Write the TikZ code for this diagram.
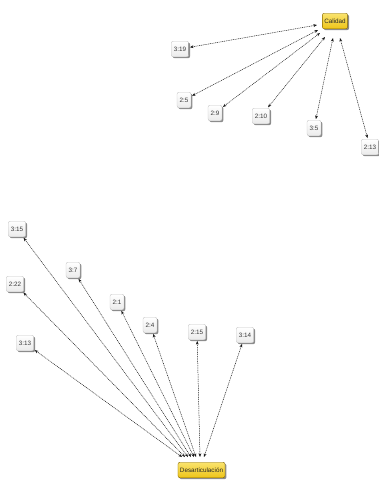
\documentclass[tikz,border=0pt]{standalone}
\usepackage{fontspec}
\setmainfont{Liberation Sans}
\usetikzlibrary{shadows,arrows.meta}
\definecolor{gold}{RGB}{238,196,24}
\definecolor{goldlight}{RGB}{250,228,110}
\definecolor{goldborder}{RGB}{130,100,0}
\begin{document}
\begin{tikzpicture}[x=1pt,y=-1pt,
  leaf/.style={draw=gray!45, rounded corners=2pt, top color=white, bottom color=gray!16,
    font=\fontsize{6.3}{7}\selectfont, text=black!78, inner xsep=2.6pt, inner ysep=0pt,
    minimum height=15.5pt,
    drop shadow={shadow xshift=1.4pt, shadow yshift=-1.4pt, fill=black!60, opacity=0.75}},
  code/.style={leaf, draw=goldborder, top color=goldlight, bottom color=gold,
    text=black!85, inner xsep=2pt},
  link/.style={<->, >={Stealth[length=3.6pt,width=2.8pt]},
    dash pattern=on 1pt off 0.8pt, line width=0.5pt, black!90, shorten <=1pt}
]
\useasboundingbox (0,0) rectangle (379,483);

% Calidad group
\node[code] (cal) at (335,21) {Calidad};
\node[leaf] (a319) at (180,49) {3:19};
\node[leaf] (a25) at (184,100) {2:5};
\node[leaf] (a29) at (215,113) {2:9};
\node[leaf] (a210) at (261,116) {2:10};
\node[leaf] (a35) at (314,128) {3:5};
\node[leaf] (a213) at (370,147) {2:13};

\draw[link] (a319) -- ([xshift=-18pt,yshift=-4pt]cal.center);
\draw[link] (a25) -- ([xshift=-17pt,yshift=-9pt]cal.center);
\draw[link] (a29) -- ([xshift=-15pt,yshift=-12pt]cal.center);
\draw[link] (a210) -- ([xshift=-10pt,yshift=-16pt]cal.center);
\draw[link] (a35) -- ([xshift=-2pt,yshift=-17pt]cal.center);
\draw[link] (a213) -- ([xshift=5pt,yshift=-17pt]cal.center);

% Desarticulacion group
\node[code] (des) at (201.5,470) {Desarticulación};
\node[leaf] (b315) at (17,229) {3:15};
\node[leaf] (b37) at (73,270) {3:7};
\node[leaf] (b222) at (15,284) {2:22};
\node[leaf] (b21) at (117,302) {2:1};
\node[leaf] (b313) at (25,343) {3:13};
\node[leaf] (b24) at (150,325) {2:4};
\node[leaf] (b215) at (197,332) {2:15};
\node[leaf] (b314) at (245,335) {3:14};

\draw[link] (b313) -- ([xshift=-19.5pt,yshift=13pt]des.center);
\draw[link] (b222) -- ([xshift=-16.5pt,yshift=13pt]des.center);
\draw[link] (b315) -- ([xshift=-13.5pt,yshift=13pt]des.center);
\draw[link] (b37) -- ([xshift=-10.5pt,yshift=13pt]des.center);
\draw[link] (b21) -- ([xshift=-7.5pt,yshift=13pt]des.center);
\draw[link] (b24) -- ([xshift=-5.5pt,yshift=13pt]des.center);
\draw[link] (b215) -- ([xshift=-1.5pt,yshift=13pt]des.center);
\draw[link] (b314) -- ([xshift=2.5pt,yshift=13pt]des.center);
\end{tikzpicture}
\end{document}
